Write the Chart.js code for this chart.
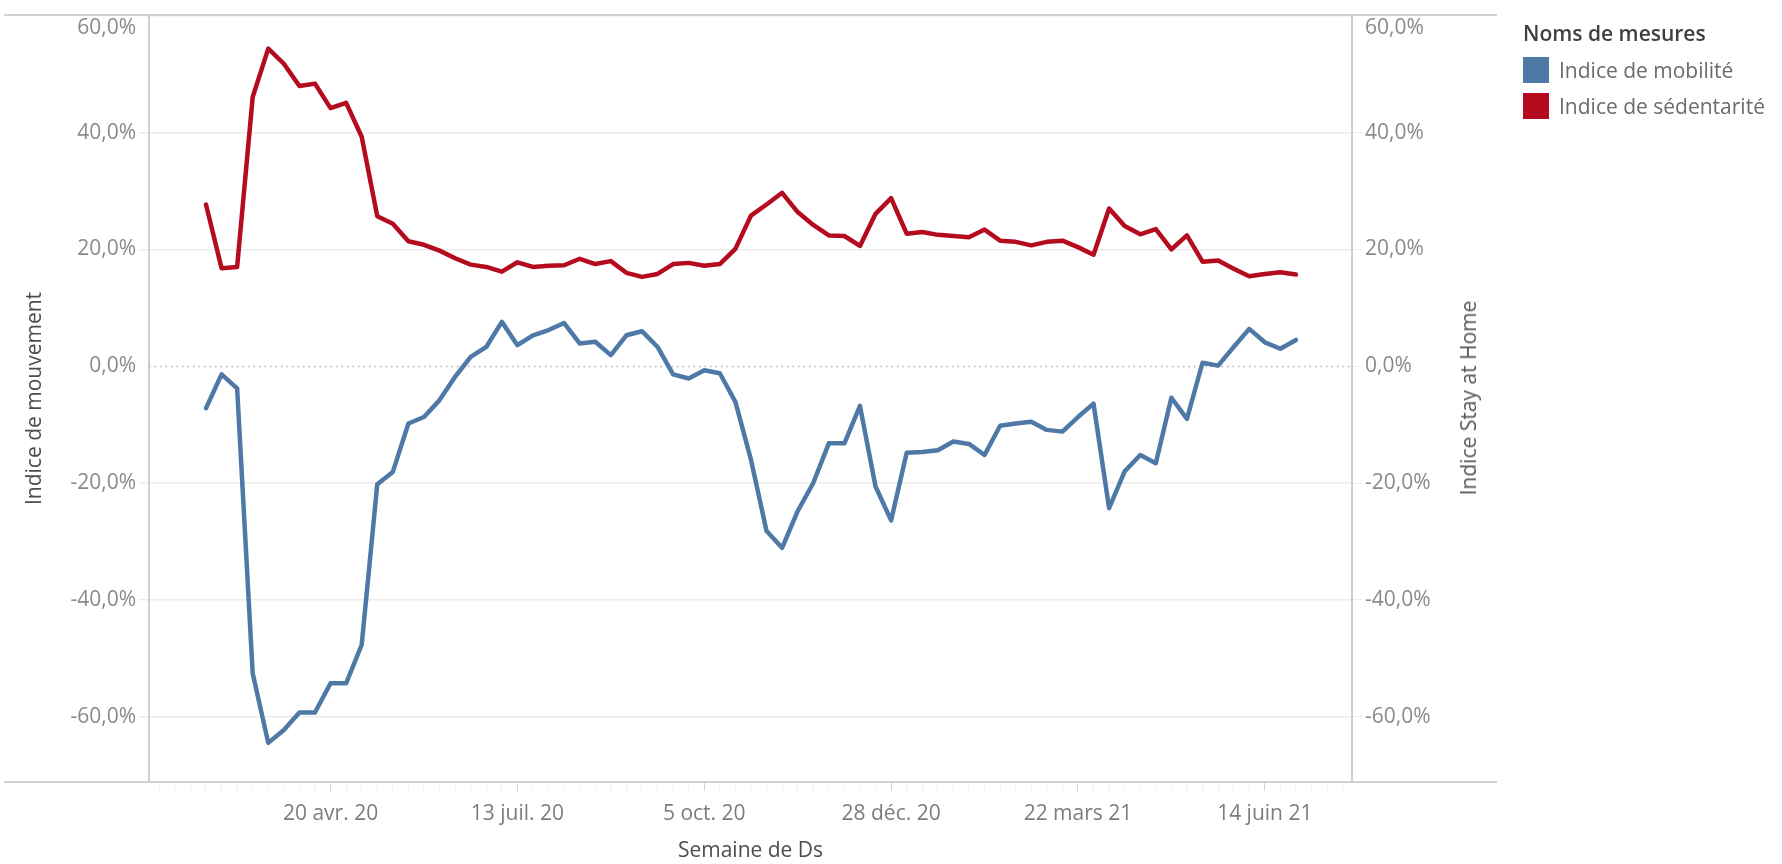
<!DOCTYPE html>
<html lang="fr">
<head>
<meta charset="utf-8">
<title>Indice de mobilité / sédentarité</title>
<script src="https://cdn.jsdelivr.net/npm/chart.js@4.4.1/dist/chart.umd.min.js"></script>
<style>
  body { margin: 0; background: #fff; font-family: "Open Sans", sans-serif; }
  #wrap { position: relative; width: 1782px; height: 864px; }
  #legend { position: absolute; left: 1523px; top: 18px; }
  #legend .title { font-size: 21px; font-weight: 600; color: #404040; line-height: 30px; margin-bottom: 4px; }
  #legend .item { display: flex; align-items: center; height: 36px; }
  #legend .swatch { width: 26px; height: 26px; margin-right: 10px; }
  #legend .label { font-size: 21px; color: #6b6b6b; }
  #rightTitle {
    position: absolute; left: 1468px; top: 398px;
    transform: translate(-50%, -50%) rotate(-90deg);
    white-space: nowrap; font-size: 21px; color: #555;
  }
</style>
</head>
<body>
<div id="wrap">
  <canvas id="chart" width="1782" height="864"></canvas>
  <div id="legend"></div>
  <div id="rightTitle">Indice Stay at Home</div>
</div>
<script>
// weekly data (Monday of each week)
const weeks = [
  "2020-02-24", "2020-03-02", "2020-03-09", "2020-03-16", "2020-03-23", "2020-03-30",
  "2020-04-06", "2020-04-13", "2020-04-20", "2020-04-27", "2020-05-04", "2020-05-11",
  "2020-05-18", "2020-05-25", "2020-06-01", "2020-06-08", "2020-06-15", "2020-06-22",
  "2020-06-29", "2020-07-06", "2020-07-13", "2020-07-20", "2020-07-27", "2020-08-03",
  "2020-08-10", "2020-08-17", "2020-08-24", "2020-08-31", "2020-09-07", "2020-09-14",
  "2020-09-21", "2020-09-28", "2020-10-05", "2020-10-12", "2020-10-19", "2020-10-26",
  "2020-11-02", "2020-11-09", "2020-11-16", "2020-11-23", "2020-11-30", "2020-12-07",
  "2020-12-14", "2020-12-21", "2020-12-28", "2021-01-04", "2021-01-11", "2021-01-18",
  "2021-01-25", "2021-02-01", "2021-02-08", "2021-02-15", "2021-02-22", "2021-03-01",
  "2021-03-08", "2021-03-15", "2021-03-22", "2021-03-29", "2021-04-05", "2021-04-12",
  "2021-04-19", "2021-04-26", "2021-05-03", "2021-05-10", "2021-05-17", "2021-05-24",
  "2021-05-31", "2021-06-07", "2021-06-14", "2021-06-21", "2021-06-28"
];

// Indice de mobilité (%)
const mobilite = [
  -7.2, -1.4, -3.8, -52.6, -64.5, -62.3, -59.3, -59.3, -54.3, -54.3,
  -47.7, -20.2, -18.1, -9.8, -8.7, -5.8, -1.8, 1.6, 3.3, 7.6,
  3.6, 5.3, 6.2, 7.4, 3.9, 4.2, 1.9, 5.3, 6.0, 3.3,
  -1.4, -2.1, -0.7, -1.2, -6.1, -16.0, -28.2, -31.1, -24.8, -20.0,
  -13.2, -13.2, -6.8, -20.6, -26.4, -14.8, -14.7, -14.4, -12.9, -13.3,
  -15.2, -10.2, -9.8, -9.5, -10.9, -11.2, -8.7, -6.4, -24.3, -18.0,
  -15.2, -16.6, -5.4, -9.0, 0.6, 0.1, 3.3, 6.4, 4.1, 3.0,
  4.5
];

// Indice de sédentarité (%)
const sedentarite = [
  27.7, 16.8, 17.0, 46.1, 54.4, 51.8, 48.0, 48.4, 44.2, 45.1,
  39.3, 25.7, 24.4, 21.4, 20.8, 19.8, 18.5, 17.4, 17.0, 16.2,
  17.8, 17.0, 17.2, 17.3, 18.4, 17.5, 18.0, 16.0, 15.3, 15.8,
  17.5, 17.7, 17.2, 17.5, 20.1, 25.8, 27.7, 29.7, 26.4, 24.2,
  22.4, 22.3, 20.6, 26.1, 28.8, 22.7, 23.0, 22.5, 22.3, 22.1,
  23.4, 21.5, 21.3, 20.7, 21.3, 21.5, 20.4, 19.1, 27.0, 24.0,
  22.6, 23.5, 20.0, 22.4, 17.9, 18.1, 16.7, 15.4, 15.8, 16.1,
  15.7
];

const tickDates = ["2020-04-20", "2020-07-13", "2020-10-05", "2020-12-28", "2021-03-22", "2021-06-14"];
const tickLabels = ["20 avr. 20", "13 juil. 20", "5 oct. 20", "28 déc. 20", "22 mars 21", "14 juin 21"];

const WEEK_MS = 7 * 24 * 3600 * 1000;
function weekIndex(d) {
  return Math.round((Date.parse(d) - Date.parse(weeks[0])) / WEEK_MS);
}
function majorLabel(v) {
  const k = tickDates.findIndex(d => weekIndex(d) === v);
  return k >= 0 ? tickLabels[k] : "";
}
function pct(v) {
  return v.toFixed(1).replace(".", ",") + "%";
}

Chart.defaults.font.family = "'Open Sans', sans-serif";

// dotted zero line + pane borders
const paneLines = {
  id: "paneLines",
  beforeDatasetsDraw(chart) {
    const { ctx, chartArea, scales } = chart;
    const y0 = Math.round(scales.y.getPixelForValue(0)) + 0.5;
    ctx.save();
    ctx.strokeStyle = "#b0b0b0";
    ctx.lineWidth = 1.5;
    ctx.setLineDash([1.5, 4]);
    ctx.beginPath();
    ctx.moveTo(chartArea.left, y0);
    ctx.lineTo(chartArea.right, y0);
    ctx.stroke();
    ctx.restore();
  },
  afterDraw(chart) {
    const { ctx, chartArea } = chart;
    ctx.save();
    ctx.strokeStyle = "#d2d2d2";
    ctx.lineWidth = 2;
    ctx.beginPath();
    ctx.moveTo(4, chartArea.top);
    ctx.lineTo(1497, chartArea.top);
    ctx.moveTo(4, chartArea.bottom);
    ctx.lineTo(1497, chartArea.bottom);
    ctx.stroke();
    ctx.restore();
  }
};

// top label sits just below the pane border, as in the original
const yTicks = {
  stepSize: 20,
  includeBounds: false,
  padding: 3,
  color: "#8a8a8a",
  font: { size: 21 },
  callback: (v) => (v === 60 ? ["", pct(v)] : pct(v))
};

function fitY(width) {
  return (s) => {
    s.width = width;
    s.paddingTop = 0;
    s.paddingBottom = 0;
  };
}

const chart = new Chart(document.getElementById("chart"), {
  type: "line",
  data: {
    datasets: [
      {
        label: "Indice de mobilité",
        data: weeks.map((d, i) => ({ x: weekIndex(d), y: mobilite[i] })),
        borderColor: "#4e79a7",
        backgroundColor: "#4e79a7",
        yAxisID: "y"
      },
      {
        label: "Indice de sédentarité",
        data: weeks.map((d, i) => ({ x: weekIndex(d), y: sedentarite[i] })),
        borderColor: "#b50b1f",
        backgroundColor: "#b50b1f",
        yAxisID: "y2"
      }
    ]
  },
  options: {
    responsive: false,
    animation: false,
    devicePixelRatio: 1,
    layout: { padding: { top: 15, left: 0, right: 302, bottom: 0 } },
    elements: {
      line: { borderWidth: 4.5, tension: 0, borderJoinStyle: "round", borderCapStyle: "round" },
      point: { radius: 0 }
    },
    plugins: {
      legend: { display: false },
      tooltip: { enabled: false }
    },
    scales: {
      x: {
        type: "linear",
        min: -3.66,
        max: 73.6,
        afterFit: (s) => { s.height = 82; },
        border: { display: false },
        grid: {
          drawOnChartArea: false,
          drawTicks: true,
          tickLength: 9,
          tickColor: (c) => (majorLabel(c.tick.value) ? "#d0d0d0" : "#f1f1f1")
        },
        ticks: {
          stepSize: 1,
          includeBounds: false,
          autoSkip: false,
          maxRotation: 0,
          minRotation: 0,
          padding: 10,
          color: "#7d7d7d",
          font: { size: 21 },
          callback: (v) => majorLabel(v)
        },
        title: {
          display: true,
          text: "Semaine de Ds",
          color: "#4d4d4d",
          font: { size: 21 },
          padding: { top: 0, bottom: 0 }
        }
      },
      y: {
        position: "left",
        min: -71.2,
        max: 60.15,
        afterFit: fitY(149),
        border: { display: true, color: "#cfcfcf", width: 2 },
        grid: {
          color: (c) => (c.tick.value === 0 ? "rgba(0,0,0,0)" : "#ececec"),
          lineWidth: 1.5,
          tickLength: 10
        },
        ticks: yTicks,
        title: {
          display: true,
          text: "Indice de mouvement",
          color: "#4d4d4d",
          font: { size: 21 },
          padding: { top: 22 }
        }
      },
      y2: {
        position: "right",
        min: -71.2,
        max: 60.15,
        afterFit: fitY(128),
        border: { display: true, color: "#cfcfcf", width: 2 },
        grid: {
          drawOnChartArea: false,
          color: "#ececec",
          tickLength: 10
        },
        ticks: yTicks
      }
    }
  },
  plugins: [paneLines]
});

// legend (Noms de mesures)
const legend = document.getElementById("legend");
legend.innerHTML = '<div class="title">Noms de mesures</div>' +
  chart.data.datasets.map(ds =>
    '<div class="item"><span class="swatch" style="background:' + ds.borderColor +
    '"></span><span class="label">' + ds.label + '</span></div>'
  ).join("");
</script>
</body>
</html>
